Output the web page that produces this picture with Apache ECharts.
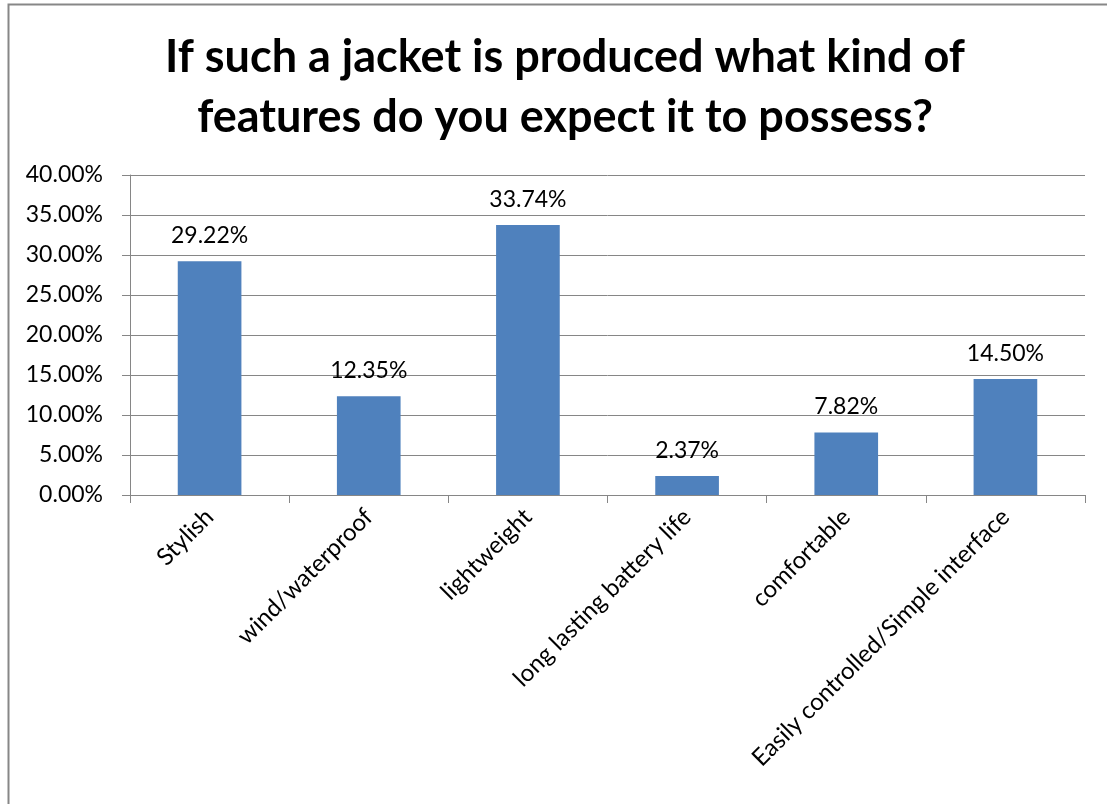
<!DOCTYPE html>
<html>
<head>
<meta charset="utf-8">
<script src="https://cdn.jsdelivr.net/npm/echarts@6/dist/echarts.min.js"></script>
<style>
  html, body { margin: 0; padding: 0; background: #fff; }
  #chart { width: 1107px; height: 804px; }
</style>
</head>
<body>
<div id="chart"></div>
<script>
const categories = [
  'Stylish',
  'wind/waterproof',
  'lightweight',
  'long lasting battery life',
  'comfortable',
  'Easily controlled/Simple interface'
];
const shares = [0.2922, 0.1235, 0.3374, 0.0237, 0.0782, 0.1450];
const titleLines = [
  'If such a jacket is produced what kind of',
  'features do you expect it to possess?'
];

const fontFamily = 'Lato, "Open Sans", sans-serif';
const chart = echarts.init(document.getElementById('chart'));

const option = {
  backgroundColor: '#fff',
  graphic: [{
    type: 'rect',
    shape: { x: 8.5, y: 4.5, width: 1120, height: 820 },
    style: { fill: 'none', stroke: '#878787', lineWidth: 2 },
    silent: true
  }],
  title: {
    text: titleLines.join('\n'),
    left: 560,
    textAlign: 'center',
    top: 22,
    textStyle: {
      fontFamily: fontFamily,
      fontSize: 45,
      fontWeight: 'bold',
      color: '#000',
      lineHeight: 60
    }
  },
  grid: {
    left: 130,
    right: 22,
    top: 175,
    bottom: 309,
    containLabel: false
  },
  xAxis: {
    type: 'category',
    data: categories,
    axisLine: { lineStyle: { color: '#868686', width: 1 } },
    axisTick: { show: true, length: 8, lineStyle: { color: '#868686' } },
    axisLabel: {
      rotate: 45,
      interval: 0,
      margin: 18,
      fontFamily: fontFamily,
      fontSize: 24,
      color: '#000'
    }
  },
  yAxis: {
    type: 'value',
    min: 0,
    max: 0.4,
    interval: 0.05,
    axisLine: { show: true, lineStyle: { color: '#868686', width: 1 } },
    axisTick: { show: true, length: 8, lineStyle: { color: '#868686' } },
    splitLine: { lineStyle: { color: '#868686', width: 1 } },
    axisLabel: {
      margin: 27,
      fontFamily: fontFamily,
      fontSize: 23,
      color: '#000',
      formatter: v => (v * 100).toFixed(2) + '%'
    }
  },
  series: [{
    type: 'bar',
    data: shares,
    barWidth: '40%',
    itemStyle: { color: '#4f81bd' },
    label: {
      show: true,
      position: 'top',
      distance: 14,
      fontFamily: fontFamily,
      fontSize: 23,
      color: '#000',
      formatter: p => (p.value * 100).toFixed(2) + '%'
    }
  }]
};

chart.setOption(option);
</script>
</body>
</html>
